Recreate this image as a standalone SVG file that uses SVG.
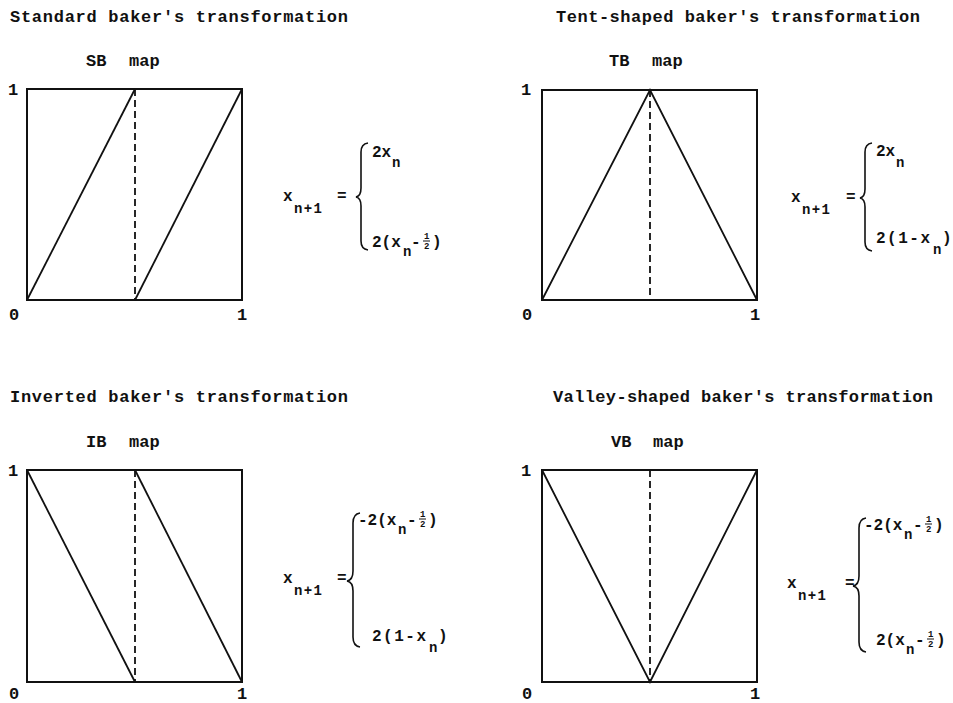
<svg xmlns="http://www.w3.org/2000/svg" width="953" height="703" viewBox="0 0 953 703">
<style>
text { font-family: "Liberation Mono", "DejaVu Sans Mono", monospace; font-weight: bold; fill: #111; }
.ti { font-size: 17px; }
.lb { font-size: 17px; }
.m { font-size: 16px; }
.s { font-size: 14px; }
.f { font-size: 9px; }
.w { letter-spacing: 1.5px; }
.box { fill: none; stroke: #111; stroke-width: 2; }
.ln { fill: none; stroke: #111; stroke-width: 1.8; }
.dash { fill: none; stroke: #111; stroke-width: 1.8; stroke-dasharray: 7 4; }
.br { fill: none; stroke: #111; stroke-width: 1.6; }
.fb { stroke: #111; stroke-width: 1; }
</style>
<rect width="953" height="703" fill="#fff"/>

<g id="sb">
  <text class="ti" x="10" y="22" textLength="338" lengthAdjust="spacing">Standard baker's transformation</text>
  <text class="lb" x="86" y="66">SB</text>
  <text class="lb" x="129" y="66">map</text>
  <text class="lb" x="8" y="95">1</text>
  <text class="lb" x="9" y="320">0</text>
  <text class="lb" x="237" y="320">1</text>
  <rect class="box" x="27" y="89" width="215" height="211"/>
  <line class="dash" x1="135" y1="89" x2="135" y2="300"/>
  <line class="ln" x1="27" y1="300" x2="135" y2="89"/>
  <line class="ln" x1="135" y1="300" x2="242" y2="89"/>
  <text class="m" x="283" y="201">x</text>
  <text class="s" x="294" y="213" textLength="28">n+1</text>
  <text class="m" x="337" y="201">=</text>
  <path class="br" d="M368 143 Q361 144 361 152 L361 188 Q361 196 356 197 Q361 198 361 206 L361 241 Q361 249 368 250"/>
  <text class="m" x="372" y="157">2x</text>
  <text class="s" x="392" y="167">n</text>
  <text class="m" x="372" y="247">2(x</text>
  <text class="s" x="403" y="256">n</text>
  <text class="m" x="411" y="247">-</text>
  <text class="f" x="424" y="239">1</text>
  <line class="fb" x1="423" y1="241" x2="430" y2="241"/>
  <text class="f" x="424" y="249">2</text>
  <text class="m" x="432" y="247">)</text>
</g>

<g id="tb">
  <text class="ti" x="556" y="22" textLength="364" lengthAdjust="spacing">Tent-shaped baker's transformation</text>
  <text class="lb" x="609" y="66">TB</text>
  <text class="lb" x="652" y="66">map</text>
  <text class="lb" x="521" y="95">1</text>
  <text class="lb" x="522" y="320">0</text>
  <text class="lb" x="750" y="320">1</text>
  <rect class="box" x="542" y="90" width="215" height="210"/>
  <line class="dash" x1="650" y1="90" x2="650" y2="300"/>
  <polyline class="ln" points="542,300 650,90 757,300"/>
  <text class="m" x="791" y="202">x</text>
  <text class="s" x="802" y="214" textLength="28">n+1</text>
  <text class="m" x="846" y="202">=</text>
  <path class="br" d="M872 143 Q865 144 865 152 L865 189 Q865 197 860 198 Q865 199 865 207 L865 242 Q865 250 872 251"/>
  <text class="m" x="876" y="156">2x</text>
  <text class="s" x="896" y="167">n</text>
  <text class="m w" x="876" y="243">2(1-x</text>
  <text class="s" x="933" y="254">n</text>
  <text class="m" x="942" y="243">)</text>
</g>

<g id="ib">
  <text class="ti" x="10" y="402" textLength="338" lengthAdjust="spacing">Inverted baker's transformation</text>
  <text class="lb" x="86" y="447">IB</text>
  <text class="lb" x="129" y="447">map</text>
  <text class="lb" x="8" y="476">1</text>
  <text class="lb" x="9" y="699">0</text>
  <text class="lb" x="237" y="699">1</text>
  <rect class="box" x="27" y="470" width="215" height="212"/>
  <line class="dash" x1="135" y1="470" x2="135" y2="682"/>
  <line class="ln" x1="27" y1="470" x2="135" y2="682"/>
  <line class="ln" x1="135" y1="470" x2="242" y2="682"/>
  <text class="m" x="283" y="583">x</text>
  <text class="s" x="294" y="595" textLength="28">n+1</text>
  <text class="m" x="337" y="583">=</text>
  <path class="br" d="M360 513 Q353 514 353 523 L353 571 Q353 580 347 581 Q353 582 353 591 L353 637 Q353 646 360 647"/>
  <text class="m" x="358" y="525">-2(x</text>
  <text class="s" x="398" y="534">n</text>
  <text class="m" x="407" y="525">-</text>
  <text class="f" x="420" y="517">1</text>
  <line class="fb" x1="419" y1="519" x2="426" y2="519"/>
  <text class="f" x="420" y="527">2</text>
  <text class="m" x="428" y="525">)</text>
  <text class="m w" x="372" y="641">2(1-x</text>
  <text class="s" x="429" y="652">n</text>
  <text class="m" x="438" y="641">)</text>
</g>

<g id="vb">
  <text class="ti" x="553" y="402" textLength="380" lengthAdjust="spacing">Valley-shaped baker's transformation</text>
  <text class="lb" x="611" y="447">VB</text>
  <text class="lb" x="653" y="447">map</text>
  <text class="lb" x="521" y="476">1</text>
  <text class="lb" x="522" y="699">0</text>
  <text class="lb" x="750" y="699">1</text>
  <rect class="box" x="542" y="470" width="215" height="212"/>
  <line class="dash" x1="650" y1="470" x2="650" y2="682"/>
  <polyline class="ln" points="542,470 650,682 757,470"/>
  <text class="m" x="787" y="588">x</text>
  <text class="s" x="798" y="600" textLength="28">n+1</text>
  <text class="m" x="845" y="588">=</text>
  <path class="br" d="M866 518 Q859 519 859 528 L859 576 Q859 585 853 586 Q859 587 859 596 L859 642 Q859 651 866 652"/>
  <text class="m" x="864" y="530">-2(x</text>
  <text class="s" x="904" y="539">n</text>
  <text class="m" x="913" y="530">-</text>
  <text class="f" x="926" y="522">1</text>
  <line class="fb" x1="925" y1="524" x2="932" y2="524"/>
  <text class="f" x="926" y="532">2</text>
  <text class="m" x="934" y="530">)</text>
  <text class="m" x="876" y="645">2(x</text>
  <text class="s" x="906" y="654">n</text>
  <text class="m" x="915" y="645">-</text>
  <text class="f" x="928" y="637">1</text>
  <line class="fb" x1="927" y1="639" x2="934" y2="639"/>
  <text class="f" x="928" y="647">2</text>
  <text class="m" x="936" y="645">)</text>
</g>
</svg>
